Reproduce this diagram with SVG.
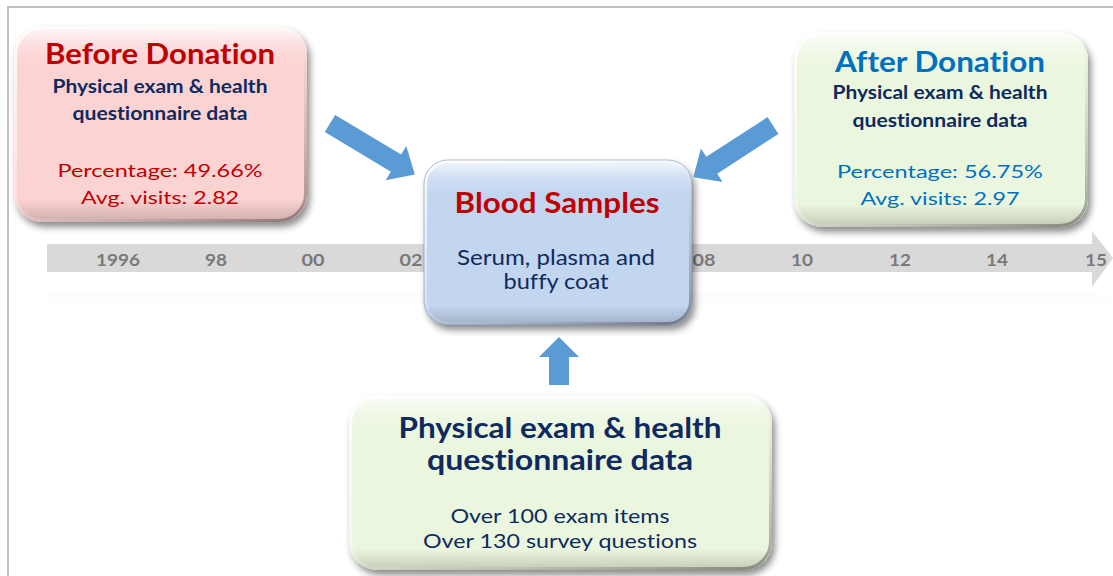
<svg xmlns="http://www.w3.org/2000/svg" width="1113" height="576" viewBox="0 0 1113 576">
<defs>
<style>
text{font-family:Lato,"Open Sans","Liberation Sans",sans-serif;text-anchor:middle;font-variant-ligatures:none}
.b{font-weight:bold}
.red{fill:#c00000}
.navy{fill:#0f2a5e}
.blue{fill:#0070c0}
.yr{font-weight:bold;font-size:17.5px;fill:#7a7a7a}
.arrow{fill:#5b9bd5}
.gloss{fill:url(#gloss)}
</style>
<filter id="sh" x="-10%" y="-10%" width="125%" height="130%">
<feDropShadow dx="3" dy="5" stdDeviation="3.5" flood-color="#000" flood-opacity="0.45"/>
</filter>
<linearGradient id="gloss" x1="0" y1="0" x2="0" y2="1">
<stop offset="0" stop-color="#fff" stop-opacity="0.85"/>
<stop offset="0.1" stop-color="#fff" stop-opacity="0.25"/>
<stop offset="0.2" stop-color="#fff" stop-opacity="0"/>
<stop offset="0.88" stop-color="#000" stop-opacity="0"/>
<stop offset="1" stop-color="#000" stop-opacity="0.18"/>
</linearGradient>
<linearGradient id="edgeR" x1="0" y1="0" x2="1" y2="1">
<stop offset="0" stop-color="#fff" stop-opacity="0.9"/>
<stop offset="0.5" stop-color="#fff" stop-opacity="0.2"/>
<stop offset="1" stop-color="#000" stop-opacity="0.35"/>
</linearGradient>
<linearGradient id="fade" x1="0" y1="0" x2="0" y2="1">
<stop offset="0" stop-color="#f2f2f2" stop-opacity="0.3"/>
<stop offset="1" stop-color="#f8f8f8" stop-opacity="0.7"/>
</linearGradient>
</defs>
<rect x="8" y="7" width="1110" height="575" fill="#fff" stroke="#c0c0c0" stroke-width="2"/>
<g id="timeline">
<polygon points="47,244 1092,244 1092,231 1113,258 1092,287 1092,272 47,272" fill="#d9d9d9"/>
<polygon points="47,292 1092,292 1092,288 1110,304 47,304" fill="url(#fade)" opacity="0.5"/>
<text class="yr" x="118" y="266" textLength="44" lengthAdjust="spacingAndGlyphs">1996</text>
<text class="yr" x="216" y="266" textLength="22" lengthAdjust="spacingAndGlyphs">98</text>
<text class="yr" x="313" y="266" textLength="23" lengthAdjust="spacingAndGlyphs">00</text>
<text class="yr" x="411" y="266" textLength="23" lengthAdjust="spacingAndGlyphs">02</text>
<text class="yr" x="704" y="266" textLength="23" lengthAdjust="spacingAndGlyphs">08</text>
<text class="yr" x="802" y="266" textLength="22" lengthAdjust="spacingAndGlyphs">10</text>
<text class="yr" x="900" y="266" textLength="22" lengthAdjust="spacingAndGlyphs">12</text>
<text class="yr" x="997" y="266" textLength="22" lengthAdjust="spacingAndGlyphs">14</text>
<text class="yr" x="1096" y="266" textLength="22" lengthAdjust="spacingAndGlyphs">15</text>
</g>
<g id="before">
<rect x="14" y="26" width="293" height="196" rx="28" fill="#fcd3d3" filter="url(#sh)"/>
<rect x="14" y="26" width="293" height="196" rx="28" class="gloss"/>
<rect x="15.5" y="27.5" width="290" height="193" rx="27" fill="none" stroke="url(#edgeR)" stroke-width="3"/>
<text class="b red" x="160" y="64" font-size="28" textLength="230" lengthAdjust="spacingAndGlyphs">Before Donation</text>
<text class="b navy" x="160" y="93" font-size="18.5" textLength="215" lengthAdjust="spacingAndGlyphs">Physical exam &amp; health</text>
<text class="b navy" x="160" y="120" font-size="18.5" textLength="175" lengthAdjust="spacingAndGlyphs">questionnaire data</text>
<text class="red" x="160" y="177" font-size="18" textLength="205" lengthAdjust="spacingAndGlyphs">Percentage: 49.66%</text>
<text class="red" x="160" y="204" font-size="18" textLength="158" lengthAdjust="spacingAndGlyphs">Avg. visits: 2.82</text>
</g>
<g id="after">
<rect x="794" y="32" width="294" height="195" rx="28" fill="#ebf6de" filter="url(#sh)"/>
<rect x="794" y="32" width="294" height="195" rx="28" class="gloss"/>
<rect x="795.5" y="33.5" width="291" height="192" rx="27" fill="none" stroke="url(#edgeR)" stroke-width="3"/>
<text class="b blue" x="940" y="72" font-size="28" textLength="210" lengthAdjust="spacingAndGlyphs">After Donation</text>
<text class="b navy" x="940" y="99" font-size="18.5" textLength="215" lengthAdjust="spacingAndGlyphs">Physical exam &amp; health</text>
<text class="b navy" x="940" y="127" font-size="18.5" textLength="175" lengthAdjust="spacingAndGlyphs">questionnaire data</text>
<text class="blue" x="940" y="178" font-size="18" textLength="206" lengthAdjust="spacingAndGlyphs">Percentage: 56.75%</text>
<text class="blue" x="940" y="205" font-size="18" textLength="159" lengthAdjust="spacingAndGlyphs">Avg. visits: 2.97</text>
</g>
<g id="blood">
<rect x="424" y="160" width="268" height="165" rx="24" fill="#c3d6f0" filter="url(#sh)"/>
<rect x="424" y="160" width="268" height="165" rx="24" class="gloss"/>
<rect x="425.5" y="161.5" width="265" height="162" rx="23" fill="none" stroke="url(#edgeR)" stroke-width="3"/>
<rect x="424" y="160" width="268" height="165" rx="24" fill="none" stroke="#6f85a8" stroke-opacity="0.5" stroke-width="1"/>
<text class="b red" x="557" y="213" font-size="28" textLength="205" lengthAdjust="spacingAndGlyphs">Blood Samples</text>
<text class="navy" x="556" y="265" font-size="20.5" textLength="198" lengthAdjust="spacingAndGlyphs">Serum, plasma and</text>
<text class="navy" x="556" y="289" font-size="20.5" textLength="105" lengthAdjust="spacingAndGlyphs">buffy coat</text>
</g>
<g id="physical">
<rect x="349" y="395" width="423" height="175" rx="28" fill="#ebf6df" filter="url(#sh)"/>
<rect x="349" y="395" width="423" height="175" rx="28" class="gloss"/>
<rect x="350.5" y="396.5" width="420" height="172" rx="27" fill="none" stroke="url(#edgeR)" stroke-width="3"/>
<text class="b navy" x="560" y="438" font-size="28" textLength="323" lengthAdjust="spacingAndGlyphs">Physical exam &amp; health</text>
<text class="b navy" x="560" y="470" font-size="28" textLength="266" lengthAdjust="spacingAndGlyphs">questionnaire data</text>
<text class="navy" x="560" y="523" font-size="20" textLength="219" lengthAdjust="spacingAndGlyphs">Over 100 exam items</text>
<text class="navy" x="560" y="548" font-size="20" textLength="274" lengthAdjust="spacingAndGlyphs">Over 130 survey questions</text>
</g>
<g id="connectors">
<path class="arrow" d="M0,-10 L77,-10 L77,-20 L99,0 L77,20 L77,10 L0,10 Z" transform="translate(330,123.5) rotate(31)"/>
<path class="arrow" d="M0,-10 L73,-10 L73,-20 L95,0 L73,20 L73,10 L0,10 Z" transform="translate(773,125.5) rotate(147)"/>
<path class="arrow" d="M549,385 L549,357 L539,357 L559,337 L579,357 L569,357 L569,385 Z"/>
</g>
</svg>
